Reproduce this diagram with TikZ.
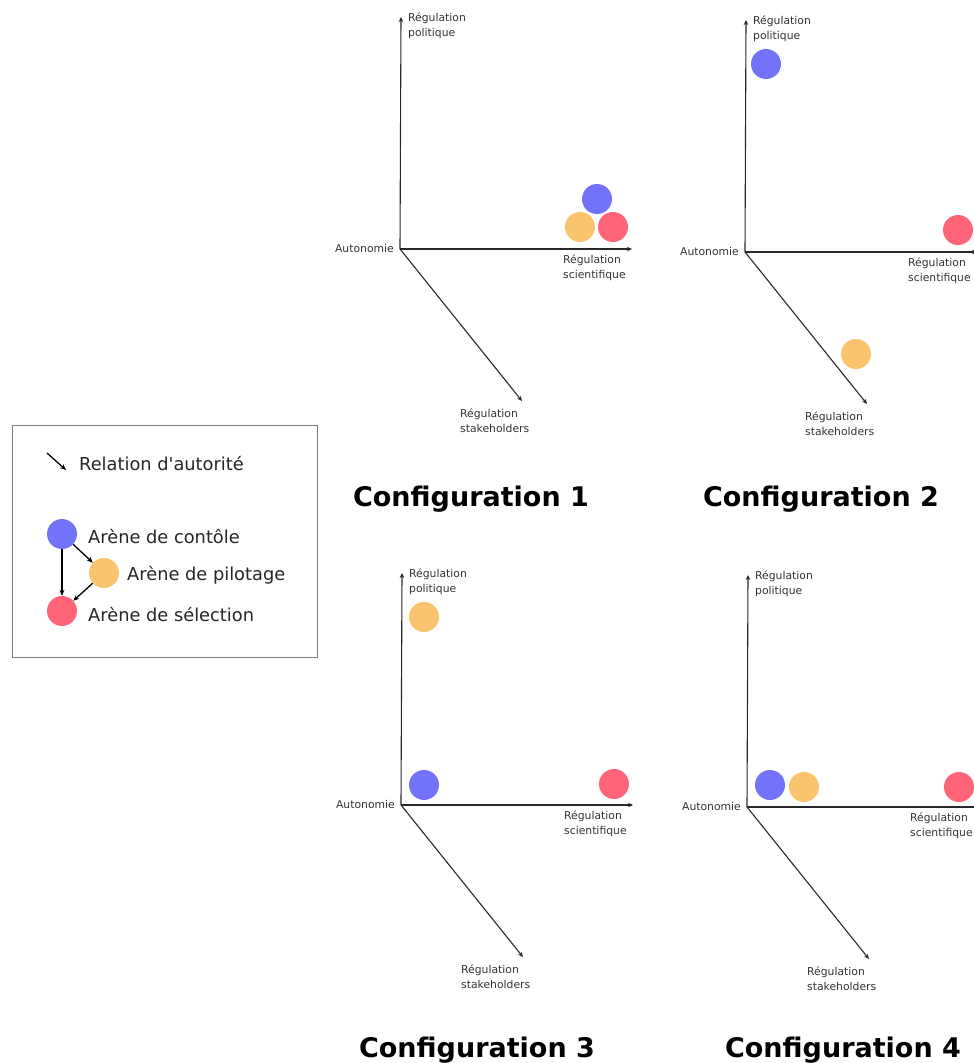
\documentclass[tikz,border=0pt]{standalone}
\usepackage{fontspec}
\setmainfont{DejaVu Sans}
\usetikzlibrary{arrows.meta}

\definecolor{arblue}{RGB}{115,115,250}
\definecolor{arorange}{RGB}{250,196,110}
\definecolor{arred}{RGB}{255,100,120}
\definecolor{axisgray}{RGB}{40,40,40}
\definecolor{framegray}{RGB}{125,125,125}

\tikzset{
  axis/.style={draw=axisgray, line width=1.1pt, -{Stealth[length=5pt,width=4.5pt]}},
  arena/.style={circle, minimum size=30pt, inner sep=0pt},
  axlabel/.style={font=\fontsize{10.8}{14.8}\selectfont, align=left, inner sep=0pt, text=black!80},
  cfgtitle/.style={font=\fontsize{27}{30}\selectfont\bfseries, anchor=base, inner sep=0pt},
  legtext/.style={font=\fontsize{17.8}{20}\selectfont, anchor=base west, inner sep=0pt, text=black!85},
  authority/.style={draw=black, line width=1.3pt, -{Stealth[length=6pt,width=5pt]}},
}

% One set of three axes with its labels; #1 prefix, (#2,#3) origin
\newcommand\cfgpanel[3]{%
  \coordinate (#1o) at (#2,#3);
  \coordinate (#1up) at (#2+1,#3-232);
  \coordinate (#1rt) at (#2+232,#3);
  \coordinate (#1dg) at (#2+122,#3+152);
  \draw[axis] (#1o) -- (#1up);
  \draw[axis] (#1o) -- (#1rt);
  \draw[axis] (#1o) -- (#1dg);
  \node[axlabel, anchor=north west] (#1pol) at (#2+8,#3-236) {Régulation\\politique};
  \node[axlabel, anchor=east] (#1aut) at (#2-6,#3-1) {Autonomie};
  \node[axlabel, anchor=north west] (#1sci) at (#2+163,#3+6) {Régulation\\scientifique};
  \node[axlabel, anchor=north west] (#1sta) at (#2+60,#3+160) {Régulation\\stakeholders};
}

\begin{document}
\begin{tikzpicture}[x=1pt, y=-1pt]
  \useasboundingbox (0,0) rectangle (974,1063);

  % Configuration 1
  \cfgpanel{a}{400}{249}
  \node[arena, fill=arblue] (ab) at (597,199) {};
  \node[arena, fill=arorange] (ao) at (580,227) {};
  \node[arena, fill=arred] (ar) at (613,227) {};
  \node[cfgtitle] (at) at (471,506) {Configuration 1};

  % Configuration 2
  \cfgpanel{b}{745}{252}
  \node[arena, fill=arblue] (bb) at (766,64) {};
  \node[arena, fill=arred] (br) at (958,230) {};
  \node[arena, fill=arorange] (bo) at (856,354) {};
  \node[cfgtitle] (bt) at (821,506) {Configuration 2};

  % Configuration 3
  \cfgpanel{c}{401}{805}
  \node[arena, fill=arorange] (co) at (424,617) {};
  \node[arena, fill=arblue] (cb) at (424,785) {};
  \node[arena, fill=arred] (cr) at (614,784) {};
  \node[cfgtitle] (ct) at (477,1057) {Configuration 3};

  % Configuration 4
  \cfgpanel{d}{747}{807}
  \node[arena, fill=arblue] (db) at (770,785) {};
  \node[arena, fill=arorange] (do) at (804,787) {};
  \node[arena, fill=arred] (dr) at (959,787) {};
  \node[cfgtitle] (dt) at (843,1057) {Configuration 4};

  % Legend
  \draw[framegray, line width=1pt] (12,425) rectangle (317,657);
  \coordinate (ls) at (47,453);
  \coordinate (le) at (66,470);
  \draw[authority] (ls) -- (le);
  \node[legtext] (lrel) at (79,470) {Relation d\textquotesingle autorité};
  \node[arena, fill=arblue] (lb) at (62,534) {};
  \node[arena, fill=arorange] (lo) at (104,573) {};
  \node[arena, fill=arred] (lr) at (62,611) {};
  \draw[authority] (lb) -- (lr);
  \draw[authority] (lb) -- (lo);
  \draw[authority] (lo) -- (lr);
  \node[legtext] (lbt) at (88,543) {Arène de contôle};
  \node[legtext] (lot) at (127,580) {Arène de pilotage};
  \node[legtext] (lrt) at (88,621) {Arène de sélection};
\end{tikzpicture}
\end{document}
